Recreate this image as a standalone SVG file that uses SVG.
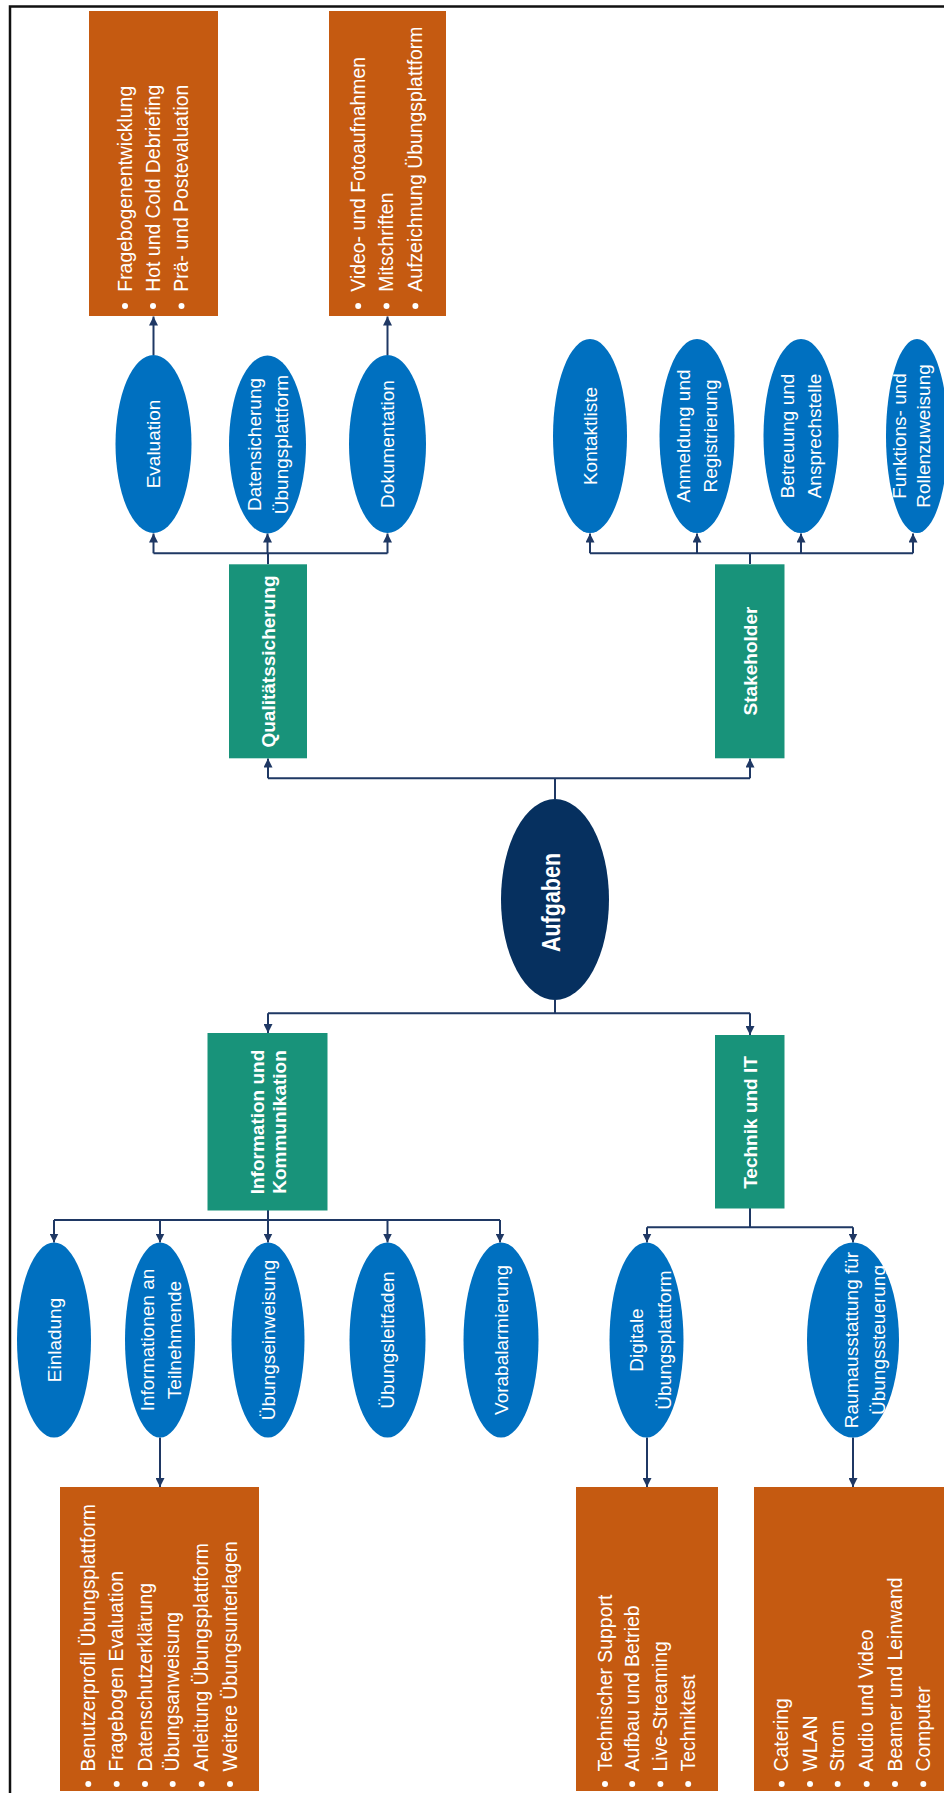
<svg xmlns="http://www.w3.org/2000/svg" width="944" height="1793" viewBox="0 0 944 1793">
<style>
.box{fill:#C55A11}
.grn{fill:#18937A}
.ell{fill:#0070C0}
.t{font-family:"Liberation Sans",Arial,sans-serif;font-size:19px;fill:#fff}
.lst{font-family:"Liberation Sans",Arial,sans-serif;font-size:19.4px;fill:#fff}
.b{font-weight:bold}
.c{text-anchor:middle}
.con{stroke:#1F3864;stroke-width:2;fill:none}
.arr{stroke:#1F3864;stroke-width:2;fill:none;marker-end:url(#ah)}
.dot{fill:#fff}
</style>
<defs>
<marker id="ah" markerUnits="userSpaceOnUse" markerWidth="10" markerHeight="9" refX="9" refY="4.5" orient="auto"><path d="M0,0 L9,4.5 L0,9 z" fill="#1F3864"/></marker>
</defs>
<rect x="0" y="0" width="944" height="1793" fill="#fff"/>
<rect x="10" y="6.5" width="960" height="1820" fill="none" stroke="#111" stroke-width="2.5"/>

<g id="connectors">
<path class="con" d="M555,799 V778.3 M268,778.3 H750"/>
<path class="arr" d="M268,778.3 V758.5"/>
<path class="arr" d="M750,778.3 V758.5"/>
<path class="con" d="M268,564.3 V553.3 M153.5,553.3 H387.5"/>
<path class="arr" d="M153.5,553.3 V533.5"/>
<path class="arr" d="M267.5,553.3 V533.5"/>
<path class="arr" d="M387.5,553.3 V533.5"/>
<path class="con" d="M750,564 V553.3 M590,553.3 H913"/>
<path class="arr" d="M590,553.3 V533.5"/>
<path class="arr" d="M697,553.3 V533.5"/>
<path class="arr" d="M801,553.3 V533.5"/>
<path class="arr" d="M913,553.3 V533.5"/>
<path class="arr" d="M153.5,355 V316.5"/>
<path class="arr" d="M387.5,355 V316.5"/>
<path class="con" d="M555,1000 V1013.3 M268,1013.3 H750"/>
<path class="arr" d="M268,1013.3 V1033"/>
<path class="arr" d="M750,1013.3 V1035"/>
<path class="con" d="M268,1210 V1220 M54,1220 H500"/>
<path class="arr" d="M54,1220 V1242.5"/>
<path class="arr" d="M160,1220 V1242.5"/>
<path class="arr" d="M268,1220 V1242.5"/>
<path class="arr" d="M387.5,1220 V1242.5"/>
<path class="arr" d="M500,1220 V1242.5"/>
<path class="con" d="M750,1208 V1227.3 M647,1227.3 H853"/>
<path class="arr" d="M647,1227.3 V1242.5"/>
<path class="arr" d="M853,1227.3 V1242.5"/>
<path class="arr" d="M160,1437.5 V1487"/>
<path class="arr" d="M647,1437.5 V1487"/>
<path class="arr" d="M853,1437.5 V1487"/>
</g>

<g id="aufgaben">
<ellipse cx="555" cy="899.5" rx="54" ry="100.5" fill="#06305F"/>
<text class="t b c" style="font-size:21.5px" transform="translate(560,902.5) rotate(-90) scale(1,1.2)">Aufgaben</text>
</g>

<g id="qualitaet">
<rect class="grn" x="229" y="564.3" width="78" height="194"/>
<text class="t b c" transform="translate(274.7,661.5) rotate(-90)">Qualitätssicherung</text>
</g>
<g id="stakeholder">
<rect class="grn" x="715" y="564.3" width="69.5" height="194"/>
<text class="t b c" transform="translate(756.5,661) rotate(-90)">Stakeholder</text>
</g>
<g id="info">
<rect class="grn" x="207.5" y="1033" width="120" height="177.5"/>
<text class="t b c" transform="translate(264,1122) rotate(-90)">Information und</text>
<text class="t b c" transform="translate(286,1122) rotate(-90)">Kommunikation</text>
</g>
<g id="technik">
<rect class="grn" x="715" y="1035" width="69.5" height="173.5"/>
<text class="t b c" transform="translate(756.5,1122.5) rotate(-90)">Technik und IT</text>
</g>

<g id="evaluation">
<ellipse class="ell" cx="153.5" cy="444" rx="38" ry="89"/>
<text class="t c" transform="translate(160.3,444) rotate(-90)">Evaluation</text>
</g>
<g id="datensicherung">
<ellipse class="ell" cx="267.5" cy="444.5" rx="38.5" ry="89"/>
<text class="t c" transform="translate(261.3,444.5) rotate(-90)">Datensicherung</text>
<text class="t c" transform="translate(288.3,444.5) rotate(-90)">Übungsplattform</text>
</g>
<g id="dokumentation">
<ellipse class="ell" cx="387.5" cy="444" rx="38.5" ry="89"/>
<text class="t c" transform="translate(394.3,444) rotate(-90)">Dokumentation</text>
</g>
<g id="kontaktliste">
<ellipse class="ell" cx="590" cy="436" rx="37" ry="97"/>
<text class="t c" transform="translate(597,436) rotate(-90)">Kontaktliste</text>
</g>
<g id="anmeldung">
<ellipse class="ell" cx="697" cy="436" rx="37.5" ry="97"/>
<text class="t c" transform="translate(690.3,436) rotate(-90)">Anmeldung und</text>
<text class="t c" transform="translate(717.3,436) rotate(-90)">Registrierung</text>
</g>
<g id="betreuung">
<ellipse class="ell" cx="801" cy="436" rx="37.5" ry="97"/>
<text class="t c" transform="translate(793.5,436) rotate(-90)">Betreuung und</text>
<text class="t c" transform="translate(820.5,436) rotate(-90)">Ansprechstelle</text>
</g>
<g id="funktionen">
<ellipse class="ell" cx="917" cy="436" rx="31" ry="97"/>
<text class="t c" transform="translate(906,436) rotate(-90)">Funktions- und</text>
<text class="t c" transform="translate(929.5,436) rotate(-90)">Rollenzuweisung</text>
</g>

<g id="einladung">
<ellipse class="ell" cx="54" cy="1340" rx="37" ry="97.5"/>
<text class="t c" transform="translate(60.8,1340) rotate(-90)">Einladung</text>
</g>
<g id="informationen">
<ellipse class="ell" cx="160" cy="1340" rx="35" ry="97.5"/>
<text class="t c" transform="translate(154.3,1340) rotate(-90)">Informationen an</text>
<text class="t c" transform="translate(181.3,1340) rotate(-90)">Teilnehmende</text>
</g>
<g id="uebungseinweisung">
<ellipse class="ell" cx="268" cy="1340" rx="36.5" ry="97.5"/>
<text class="t c" transform="translate(274.8,1340) rotate(-90)">Übungseinweisung</text>
</g>
<g id="uebungsleitfaden">
<ellipse class="ell" cx="387.5" cy="1340" rx="38" ry="97.5"/>
<text class="t c" transform="translate(394.3,1340) rotate(-90)">Übungsleitfaden</text>
</g>
<g id="vorabalarmierung">
<ellipse class="ell" cx="501" cy="1340" rx="37.5" ry="97.5"/>
<text class="t c" transform="translate(507.8,1340) rotate(-90)">Vorabalarmierung</text>
</g>
<g id="digitale">
<ellipse class="ell" cx="646.5" cy="1340" rx="37" ry="97.5"/>
<text class="t c" transform="translate(642.8,1340) rotate(-90)">Digitale</text>
<text class="t c" transform="translate(670.8,1340) rotate(-90)">Übungsplattform</text>
</g>
<g id="raumausstattung">
<ellipse class="ell" cx="853" cy="1340" rx="46" ry="97.5"/>
<text class="t c" transform="translate(858,1340) rotate(-90)">Raumausstattung für</text>
<text class="t c" transform="translate(885,1340) rotate(-90)">Übungssteuerung</text>
</g>

<g id="liste-evaluation">
<rect class="box" x="89" y="11" width="129" height="305"/>
<circle class="dot" cx="125" cy="306" r="3"/><circle class="dot" cx="153" cy="306" r="3"/><circle class="dot" cx="181.5" cy="306" r="3"/>
<text class="lst" transform="translate(131.5,291.7) rotate(-90)">Fragebogenentwicklung</text>
<text class="lst" transform="translate(159.5,291.7) rotate(-90)">Hot und Cold Debriefing</text>
<text class="lst" transform="translate(188,291.7) rotate(-90)">Prä- und Postevaluation</text>
</g>
<g id="liste-dokumentation">
<rect class="box" x="329" y="11" width="117" height="305"/>
<circle class="dot" cx="358.2" cy="306" r="3"/><circle class="dot" cx="386.5" cy="306" r="3"/><circle class="dot" cx="415.4" cy="306" r="3"/>
<text class="lst" transform="translate(364.7,291.7) rotate(-90)">Video- und Fotoaufnahmen</text>
<text class="lst" transform="translate(393,291.7) rotate(-90)">Mitschriften</text>
<text class="lst" transform="translate(421.9,291.7) rotate(-90)">Aufzeichnung Übungsplattform</text>
</g>
<g id="liste-informationen">
<rect class="box" x="60" y="1487" width="199" height="304"/>
<circle class="dot" cx="88.3" cy="1784" r="3"/><circle class="dot" cx="116.7" cy="1784" r="3"/><circle class="dot" cx="145" cy="1784" r="3"/><circle class="dot" cx="172.7" cy="1784" r="3"/><circle class="dot" cx="201.7" cy="1784" r="3"/><circle class="dot" cx="230" cy="1784" r="3"/>
<text class="lst" transform="translate(94.8,1771.5) rotate(-90)">Benutzerprofil Übungsplattform</text>
<text class="lst" transform="translate(123.2,1771.5) rotate(-90)">Fragebogen Evaluation</text>
<text class="lst" transform="translate(151.5,1771.5) rotate(-90)">Datenschutzerklärung</text>
<text class="lst" transform="translate(179.2,1771.5) rotate(-90)">Übungsanweisung</text>
<text class="lst" transform="translate(208.2,1771.5) rotate(-90)">Anleitung Übungsplattform</text>
<text class="lst" transform="translate(236.5,1771.5) rotate(-90)">Weitere Übungsunterlagen</text>
</g>
<g id="liste-digital">
<rect class="box" x="576" y="1487" width="142" height="304"/>
<circle class="dot" cx="605" cy="1784" r="3"/><circle class="dot" cx="632.2" cy="1784" r="3"/><circle class="dot" cx="660.4" cy="1784" r="3"/><circle class="dot" cx="688.2" cy="1784" r="3"/>
<text class="lst" transform="translate(611.5,1771.5) rotate(-90)">Technischer Support</text>
<text class="lst" transform="translate(638.7,1771.5) rotate(-90)">Aufbau und Betrieb</text>
<text class="lst" transform="translate(667,1771.5) rotate(-90)">Live-Streaming</text>
<text class="lst" transform="translate(694.7,1771.5) rotate(-90)">Techniktest</text>
</g>
<g id="liste-raum">
<rect class="box" x="754" y="1487" width="200" height="304"/>
<circle class="dot" cx="781.7" cy="1784" r="3"/><circle class="dot" cx="810" cy="1784" r="3"/><circle class="dot" cx="837.7" cy="1784" r="3"/><circle class="dot" cx="866.7" cy="1784" r="3"/><circle class="dot" cx="895" cy="1784" r="3"/><circle class="dot" cx="923.3" cy="1784" r="3"/>
<text class="lst" transform="translate(788.2,1771.5) rotate(-90)">Catering</text>
<text class="lst" transform="translate(816.5,1771.5) rotate(-90)">WLAN</text>
<text class="lst" transform="translate(844.2,1771.5) rotate(-90)">Strom</text>
<text class="lst" transform="translate(873.2,1771.5) rotate(-90)">Audio und Video</text>
<text class="lst" transform="translate(901.5,1771.5) rotate(-90)">Beamer und Leinwand</text>
<text class="lst" transform="translate(929.8,1771.5) rotate(-90)">Computer</text>
</g>
</svg>
